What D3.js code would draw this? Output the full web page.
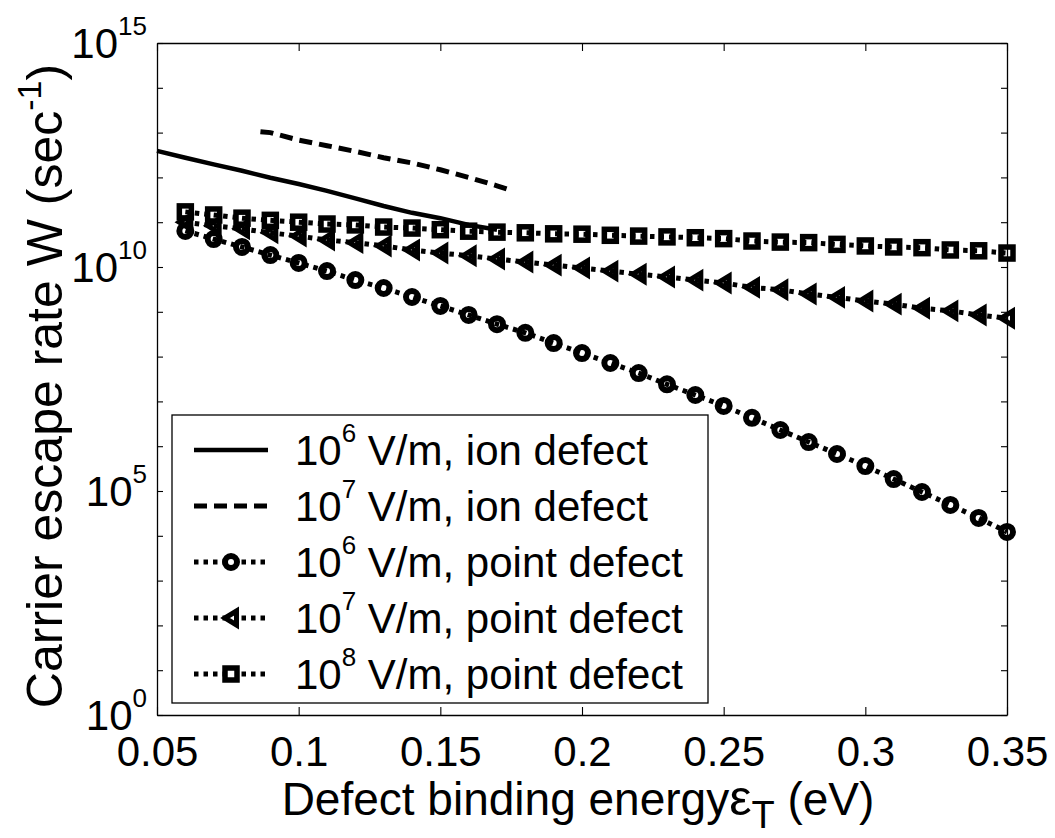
<!DOCTYPE html>
<html>
<head>
<meta charset="utf-8">
<script src="https://cdn.jsdelivr.net/npm/d3@7"></script>
<style>
  html, body { margin: 0; padding: 0; background: #fff; }
  svg { display: block; }
  text { font-family: "Liberation Sans", Arial, Helvetica, sans-serif; fill: #000; }
</style>
</head>
<body>
<div id="chart"></div>
<script>
// ---------------- data ----------------
const xTicks = [0.05, 0.1, 0.15, 0.2, 0.25, 0.3, 0.35];
const xTickLabels = ["0.05", "0.1", "0.15", "0.2", "0.25", "0.3", "0.35"];
const yMinorTicks = [1e0,1e1,1e2,1e3,1e4,1e5,1e6,1e7,1e8,1e9,1e10,1e11,1e12,1e13,1e14,1e15];
const yLabelValues = [1e0, 1e5, 1e10, 1e15];
const yLabelExponents = ["0", "5", "10", "15"];

// 10^6 V/m, ion defect (solid)
const ionLowX = [0.05,0.06,0.07,0.08,0.09,0.10,0.11,0.12,0.13,0.14,0.15,0.16,0.17];
const ionLowW = [3.9e12,2.75e12,1.95e12,1.41e12,9.8e11,7.1e11,5.0e11,3.4e11,2.3e11,1.62e11,1.23e11,8.7e10,6.8e10];

// 10^7 V/m, ion defect (dashed)
const ionHighX = [0.0865,0.09,0.10,0.11,0.12,0.13,0.14,0.15,0.16,0.17,0.1735];
const ionHighW = [1.05e13,1.0e13,6.8e12,5.1e12,3.8e12,2.75e12,2.1e12,1.48e12,1.0e12,6.5e11,5.5e11];

// point defect series share the same energies
const pointX = [0.06,0.07,0.08,0.09,0.10,0.11,0.12,0.13,0.14,0.15,0.16,0.17,0.18,0.19,0.20,
                0.21,0.22,0.23,0.24,0.25,0.26,0.27,0.28,0.29,0.30,0.31,0.32,0.33,0.34,0.35];
const point6W = [6.4e10,4.2e10,2.8e10,1.85e10,1.23e10,8.1e9,5.1e9,3.4e9,2.14e9,1.35e9,8.5e8,5.3e8,3.4e8,2.0e8,1.2e8,
                 7.2e7,4.3e7,2.4e7,1.39e7,7.9e6,4.3e6,2.3e6,1.24e6,6.7e5,3.6e5,1.85e5,9.5e4,4.9e4,2.5e4,1.22e4];
const point7W = [1.0e11,8.3e10,7.1e10,5.8e10,4.9e10,4.0e10,3.5e10,2.95e10,2.4e10,2.05e10,1.78e10,1.51e10,1.29e10,1.1e10,9.5e9,
                 8.1e9,6.9e9,6.0e9,5.1e9,4.4e9,3.5e9,3.1e9,2.5e9,2.1e9,1.74e9,1.48e9,1.2e9,1.05e9,8.5e8,7.2e8];
const point8W = [1.7e11,1.45e11,1.23e11,1.1e11,1.0e11,9.1e10,8.7e10,7.8e10,7.4e10,6.8e10,6.3e10,6.0e10,5.8e10,5.5e10,5.4e10,
                 5.1e10,4.9e10,4.7e10,4.5e10,4.3e10,3.8e10,3.6e10,3.5e10,3.2e10,2.95e10,2.8e10,2.7e10,2.4e10,2.3e10,2.05e10];

const legendExp = ["6", "7", "6", "7", "8"];
const legendText = [" V/m, ion defect", " V/m, ion defect", " V/m, point defect", " V/m, point defect", " V/m, point defect"];

// ---------------- layout ----------------
const W = 1055, H = 838;
const L = 157, R = 1007, T = 43, B = 715;

const svg = d3.select("#chart").append("svg").attr("width", W).attr("height", H);
svg.append("rect").attr("width", W).attr("height", H).attr("fill", "#fff");

const x = d3.scaleLinear().domain([0.05, 0.35]).range([L, R]);
const y = d3.scaleLog().domain([1, 1e15]).range([B, T]);

// axes (box with inward ticks)
const axisStyle = g => { g.selectAll("path.domain").attr("stroke", "#000").attr("stroke-width", 1.3);
                         g.selectAll(".tick line").attr("stroke", "#000").attr("stroke-width", 1.1); };

const xAxisB = svg.append("g").attr("transform", `translate(0,${B})`)
  .call(d3.axisBottom(x).tickValues(xTicks).tickSizeInner(-8).tickSizeOuter(0).tickPadding(21)
        .tickFormat((d, i) => xTickLabels[i]));
xAxisB.call(axisStyle);
xAxisB.selectAll("text").attr("font-size", 42).attr("font-family", '"Liberation Sans", Arial, sans-serif').attr("fill", "#000");

svg.append("g").attr("transform", `translate(0,${T})`)
  .call(d3.axisTop(x).tickValues(xTicks).tickSizeInner(-8).tickSizeOuter(0).tickFormat(""))
  .call(axisStyle);

svg.append("g").attr("transform", `translate(${L},0)`)
  .call(d3.axisLeft(y).tickValues(yMinorTicks).tickSizeInner(-6).tickSizeOuter(0).tickFormat(""))
  .call(axisStyle);
svg.append("g").attr("transform", `translate(${R},0)`)
  .call(d3.axisRight(y).tickValues(yMinorTicks).tickSizeInner(-6).tickSizeOuter(0).tickFormat(""))
  .call(axisStyle);

// y tick labels 10^n
yLabelValues.forEach((v, i) => {
  const t = svg.append("text").attr("x", L - 10).attr("y", y(v) + 15)
    .attr("text-anchor", "end").attr("font-size", 42);
  t.append("tspan").text("10");
  t.append("tspan").attr("font-size", 26).attr("dy", -23).text(yLabelExponents[i]);
});

// axis titles
const xt = svg.append("text").attr("x", (L + R) / 2 - 4).attr("y", 815)
  .attr("text-anchor", "middle").attr("font-size", 46);
xt.append("tspan").text("Defect binding energy");
xt.append("tspan").attr("font-size", 50).text("\u03B5");
xt.append("tspan").attr("font-size", 38).attr("dy", 13).text("T");
xt.append("tspan").attr("dy", -13).text(" (eV)");

const yt = svg.append("text").attr("transform", `translate(62,386) rotate(-90)`)
  .attr("text-anchor", "middle").attr("font-size", 50);
yt.append("tspan").text("Carrier escape rate W (sec");
yt.append("tspan").attr("font-size", 34).attr("dy", -21).text("-1");
yt.append("tspan").attr("dy", 21).text(")");

// ---------------- series ----------------
const plot = svg.append("g");
const line = d3.line().x(d => x(d[0])).y(d => y(d[1]));

const zip = (xs, ws) => xs.map((v, i) => [v, ws[i]]);

const markerFns = {
  circle: (g) => g.append("circle").attr("r", 6),
  triangle: (g) => g.append("path").attr("d", "M-6,0L5.5,-7L5.5,7Z").attr("stroke-linejoin", "miter"),
  square: (g) => g.append("rect").attr("x", -6).attr("y", -6).attr("width", 12).attr("height", 12)
};
const markerStroke = { circle: 6, triangle: 5, square: 5.5 };

plot.append("path").datum(zip(ionLowX, ionLowW)).attr("d", line)
  .attr("fill", "none").attr("stroke", "#000").attr("stroke-width", 4.5);
plot.append("path").datum(zip(ionHighX, ionHighW)).attr("d", line)
  .attr("fill", "none").attr("stroke", "#000").attr("stroke-width", 5).attr("stroke-dasharray", "13 7");

const pointSeries = [
  { w: point6W, m: "circle" },
  { w: point7W, m: "triangle" },
  { w: point8W, m: "square" }
];
pointSeries.forEach(s => {
  const data = zip(pointX, s.w);
  const g = plot.append("g");
  g.append("path").datum(data).attr("d", line)
    .attr("fill", "none").attr("stroke", "#000").attr("stroke-width", 5).attr("stroke-dasharray", "4.5 5");
  data.forEach(d => {
    const mg = g.append("g").attr("transform", `translate(${x(d[0])},${y(d[1])})`)
      .attr("fill", "none").attr("stroke", "#000").attr("stroke-width", markerStroke[s.m]);
    markerFns[s.m](mg);
  });
});

// ---------------- legend ----------------
const lg = svg.append("g");
const lgX0 = 172, lgX1 = 708, lgY0 = 415, lgY1 = 703;
lg.append("rect").attr("x", lgX0).attr("y", lgY0).attr("width", lgX1 - lgX0).attr("height", lgY1 - lgY0)
  .attr("fill", "#fff").attr("stroke", "#000").attr("stroke-width", 1.3);
const rowY = [450, 506, 562, 618, 674];
const sampleX0 = 194, sampleX1 = 268, textX = 295;
const styles = [
  { dash: null, m: null, w: 4.5 },
  { dash: "13 7", m: null, w: 5 },
  { dash: "4.5 5", m: "circle", w: 5 },
  { dash: "4.5 5", m: "triangle", w: 5 },
  { dash: "4.5 5", m: "square", w: 5 }
];
rowY.forEach((ry, i) => {
  const st = styles[i];
  const ln = lg.append("line").attr("x1", sampleX0).attr("x2", sampleX1).attr("y1", ry).attr("y2", ry)
    .attr("stroke", "#000").attr("stroke-width", st.w);
  if (st.dash) ln.attr("stroke-dasharray", st.dash);
  if (st.m) {
    const mg = lg.append("g").attr("transform", `translate(${(sampleX0 + sampleX1) / 2},${ry})`)
      .attr("fill", "#fff").attr("stroke", "#000").attr("stroke-width", markerStroke[st.m]);
    markerFns[st.m](mg);
  }
  const t = lg.append("text").attr("x", textX).attr("y", ry + 15).attr("font-size", 42);
  t.append("tspan").text("10");
  t.append("tspan").attr("font-size", 26).attr("dy", -23).text(legendExp[i]);
  t.append("tspan").attr("dy", 23).text(legendText[i]);
});
</script>
</body>
</html>
